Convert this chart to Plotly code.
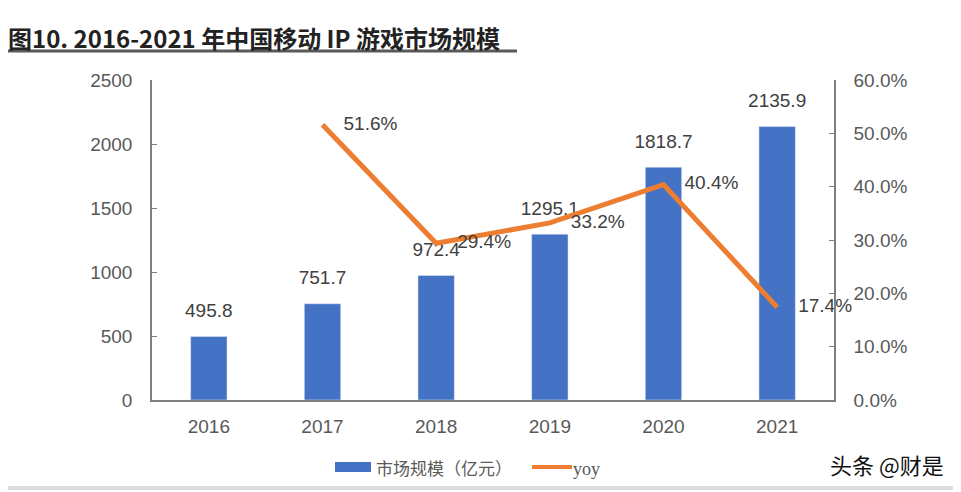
import plotly.graph_objects as go

years = ["2016", "2017", "2018", "2019", "2020", "2021"]
market = [495.8, 751.7, 972.4, 1295.1, 1818.7, 2135.9]
yoy_years = ["2017", "2018", "2019", "2020", "2021"]
yoy = [0.516, 0.294, 0.332, 0.404, 0.174]

BLUE = "#4472C4"
ORANGE = "#ED7D31"
TICK = "#595959"
LABEL = "#404040"
FONT = "Liberation Sans"

fig = go.Figure()
fig.add_trace(go.Bar(x=years, y=market, marker_color=BLUE, width=0.32,
                     name="市场规模（亿元）", showlegend=False))
fig.add_trace(go.Scatter(x=years, y=market, mode="markers+text", cliponaxis=False,
                         text=[f"{v:.1f}" for v in market], textposition="top center",
                         marker=dict(size=22, opacity=0), showlegend=False,
                         textfont=dict(size=19, color=LABEL, family=FONT), hoverinfo="skip"))
fig.add_trace(go.Scatter(x=yoy_years, y=yoy, mode="lines", yaxis="y2", cliponaxis=False,
                         line=dict(color=ORANGE, width=5), name="yoy", showlegend=False))
fig.add_trace(go.Scatter(x=yoy_years, y=yoy, mode="markers+text", yaxis="y2", cliponaxis=False,
                         text=[f"{v*100:.1f}%" for v in yoy], textposition="middle right",
                         marker=dict(size=32, opacity=0), showlegend=False,
                         textfont=dict(size=19, color=LABEL, family=FONT), hoverinfo="skip"))

axis_common = dict(showline=True, linecolor="#7F7F7F", linewidth=1.5, showgrid=False,
                   zeroline=False, ticks="inside", ticklen=5, tickcolor="#7F7F7F",
                   tickfont=dict(size=19, color=TICK, family=FONT))

fig.update_layout(
    width=953, height=484,
    margin=dict(l=144, r=127, t=72, b=92),
    plot_bgcolor="white", paper_bgcolor="white",
    xaxis=dict(showline=True, linecolor="#7F7F7F", linewidth=1.5, ticks="",
               ticklabelstandoff=8,
               tickfont=dict(size=19, color=TICK, family=FONT)),
    yaxis=dict(range=[0, 2500], dtick=500, ticklabelstandoff=14, **axis_common),
    yaxis2=dict(range=[0, 0.6], dtick=0.1, tickformat=".1%", overlaying="y", side="right",
                ticklabelstandoff=14, **axis_common),
    showlegend=False,
)

def px(x):
    return (x - 152) / 682

def py(y):
    return (400 - y) / 320

# Title
fig.add_annotation(text="<b>图10. 2016-2021 年中国移动 IP 游戏市场规模</b>", xref="paper", yref="paper",
                   x=px(6), y=py(37), xanchor="left", yanchor="middle", showarrow=False,
                   font=dict(size=24, color="#222222", family="Noto Sans CJK SC"))
fig.add_shape(type="line", xref="paper", yref="paper", x0=px(5), x1=px(517),
              y0=py(51), y1=py(51), line=dict(color="#595959", width=3))
# bottom rule
fig.add_shape(type="line", xref="paper", yref="paper", x0=px(0), x1=px(961),
              y0=py(488), y1=py(488), line=dict(color="#DDDDDD", width=4))

# Custom legend
fig.add_shape(type="rect", xref="paper", yref="paper", x0=px(335), x1=px(371),
              y0=py(472), y1=py(462), fillcolor=BLUE, line=dict(width=0))
fig.add_annotation(text="市场规模（亿元）", xref="paper", yref="paper", x=px(374), y=py(467),
                   xanchor="left", yanchor="middle", showarrow=False,
                   font=dict(size=17, color=TICK, family="Noto Sans CJK SC"))
fig.add_shape(type="line", xref="paper", yref="paper", x0=px(532), x1=px(572),
              y0=py(467), y1=py(467), line=dict(color=ORANGE, width=4))
fig.add_annotation(text="yoy", xref="paper", yref="paper", x=px(571), y=py(469),
                   xanchor="left", yanchor="middle", showarrow=False,
                   font=dict(size=18, color=TICK, family="Liberation Serif"))
# Watermark
fig.add_annotation(text="头条 @财是", xref="paper", yref="paper", x=px(946), y=py(464),
                   xanchor="right", yanchor="middle", showarrow=False,
                   font=dict(size=22, color="#111111", family="Noto Sans CJK SC"))

fig.write_html("out.html")
